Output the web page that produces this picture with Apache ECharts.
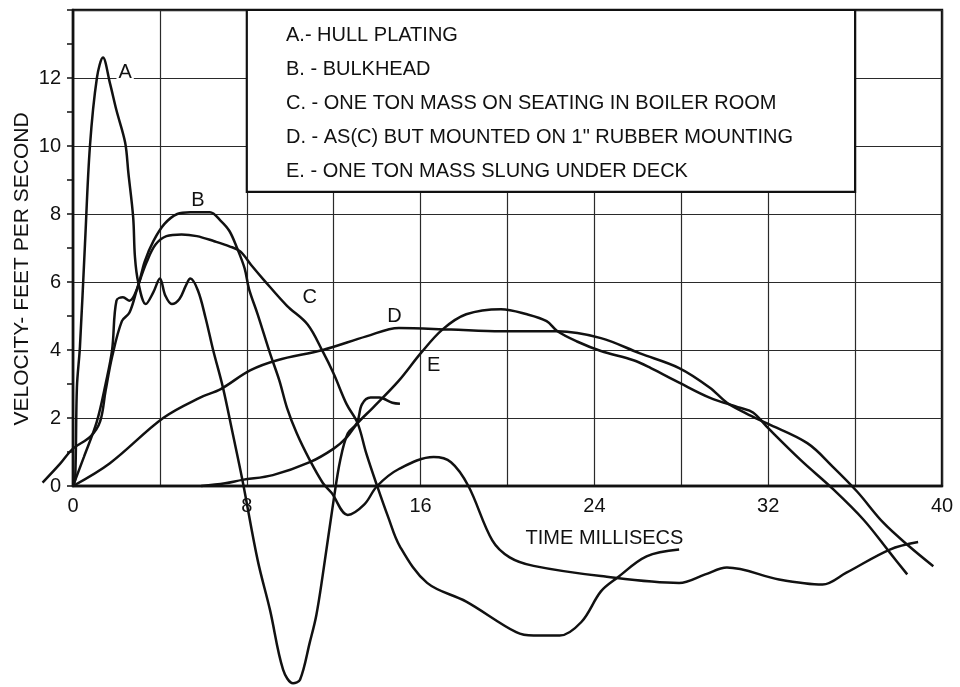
<!DOCTYPE html>
<html>
<head>
<meta charset="utf-8">
<script src="https://cdn.jsdelivr.net/npm/echarts@6/dist/echarts.min.js"></script>
<style>
  html, body { margin: 0; padding: 0; background: #fff; }
  #chart { width: 960px; height: 687px; }
</style>
</head>
<body>
<div id="chart"></div>
<script>
// time (ms) and velocity (ft/s), one pair of arrays per curve
const aTime = [0, 0.1, 0.18, 0.32, 0.55, 0.78, 1.1, 1.38, 1.7, 2.0, 2.4, 2.55, 2.77, 2.85, 3.0, 3.35, 3.7, 4.0, 4.25, 4.55, 4.9, 5.2, 5.4, 5.75, 6.1, 6.45, 6.9, 7.35, 7.8, 8.5, 9.07, 9.67, 10.13, 10.45, 10.9, 11.2, 11.5, 12.0, 12.3, 12.65, 13.07, 13.3, 13.7, 14.1, 14.7, 15.05];
const aVel = [0, 0.2, 2.9, 4.1, 7.1, 10, 12, 12.6, 11.85, 11.05, 10.1, 9.2, 7.9, 6.75, 6.0, 5.35, 5.7, 6.1, 5.6, 5.35, 5.5, 5.9, 6.1, 5.75, 4.95, 4.0, 2.9, 1.55, 0.17, -2.18, -3.65, -5.4, -5.8, -5.7, -4.6, -3.8, -2.6, -0.4, 0.76, 1.55, 1.85, 2.4, 2.6, 2.6, 2.45, 2.42];

const bTime = [0, 0.5, 1.1, 1.5, 1.8, 2.0, 2.3, 2.6, 2.95, 3.3, 3.7, 4.2, 4.8, 5.4, 6.3, 6.8, 7.2, 7.55, 7.9, 8.1, 8.5, 9.07, 9.5, 9.85, 10.3, 10.9, 11.5, 11.9, 12.65, 13.4, 14.0, 15.0, 16.6, 17.4, 18.2, 19.3, 20.1, 21.2, 24.3, 27.9, 29.1, 30.1, 32.5, 34.5, 35.6, 37.6, 38.9];
const bVel = [0, 0.85, 1.9, 3.0, 4.0, 5.45, 5.55, 5.45, 5.8, 6.6, 7.2, 7.7, 8.0, 8.05, 8.05, 7.8, 7.5, 7.0, 6.4, 5.8, 5.05, 3.9, 3.1, 2.3, 1.55, 0.76, 0.09, -0.2, -0.85, -0.55, 0, 0.5, 0.85, 0.7, 0, -1.6, -2.1, -2.35, -2.65, -2.85, -2.6, -2.4, -2.75, -2.9, -2.55, -1.87, -1.65];

const cTime = [-1.4, -0.6, 0, 0.8, 1.25, 1.5, 1.8, 2.25, 2.6, 3.0, 3.4, 3.8, 4.3, 5.0, 5.7, 6.5, 7.2, 7.7, 8.2, 8.8, 9.85, 10.8, 11.5, 12.0, 12.6, 13.1, 13.5, 14.0, 14.5, 15.05, 16.3, 18.1, 20.4, 21.2, 22.4, 23.4, 24.3, 25.05, 26.4, 27.9];
const cVel = [0.1, 0.65, 1.1, 1.45, 1.9, 2.8, 3.8, 4.85, 5.1, 5.9, 6.6, 7.1, 7.35, 7.4, 7.35, 7.2, 7.05, 6.9, 6.5, 6.05, 5.3, 4.75, 3.95, 3.3, 2.4, 1.85, 0.96, 0, -0.9, -1.78, -2.85, -3.4, -4.3, -4.4, -4.4, -4.0, -3.1, -2.7, -2.07, -1.87];

const dTime = [0, 1.7, 4.15, 5.85, 6.8, 8.15, 9.4, 11.5, 13.5, 15, 17.4, 19.7, 22.3, 24.3, 26.1, 27.9, 29.3, 30.1, 31, 31.95, 33.8, 35, 36.1, 37.3, 38.5, 39.6];
const dVel = [0, 0.67, 2.0, 2.6, 2.85, 3.4, 3.7, 4.0, 4.4, 4.65, 4.6, 4.55, 4.55, 4.35, 3.9, 3.47, 2.9, 2.45, 2.13, 1.84, 1.26, 0.55, -0.17, -1.08, -1.78, -2.36];

const eTime = [5.9, 7, 7.8, 9.2, 10.9, 12, 12.6, 13.1, 13.8, 15, 16, 17, 18.1, 19.7, 20.9, 21.8, 22.3, 23.2, 24.3, 25.8, 26.6, 27.9, 29.3, 30.7, 31.3, 32, 33.5, 35, 36.4, 37.6, 38.4];
const eVel = [0, 0.08, 0.18, 0.32, 0.7, 1.1, 1.43, 1.85, 2.3, 3.1, 3.9, 4.6, 5.05, 5.2, 5.05, 4.85, 4.55, 4.25, 3.97, 3.7, 3.47, 3.04, 2.6, 2.3, 2.16, 1.7, 0.76, -0.1, -1.0, -1.96, -2.6];

const curveNames = ['A', 'B', 'C', 'D', 'E'];
// where each curve's letter sits, in data units
const letterSpots = [[2.4, 12.15], [5.75, 8.4], [10.9, 5.55], [14.8, 5.0], [16.6, 3.55]];

const legendLines = [
  'A.- HULL PLATING',
  'B. - BULKHEAD',
  'C. - ONE TON MASS ON SEATING IN BOILER ROOM',
  'D. - AS(C) BUT MOUNTED ON 1" RUBBER MOUNTING',
  'E. - ONE TON MASS SLUNG UNDER DECK',
];
// legend panel corners, in data units
const legendBox = [[8, 8.65], [36, 14]];

const ink = '#111';
const font = 'Liberation Sans';

// plot frame: 0..40 ms across, 0..14 ft/s up
const plotLeft = 73;
const plotTop = 10;
const plotWidth = 869;
const plotHeight = 476;
// curve C starts before t = 0, so it gets a twin grid whose time axis begins at -2
const earlyStart = -2;
const pxPerMs = plotWidth / 40;

const curves = [
  [aTime, aVel],
  [bTime, bVel],
  [cTime, cVel],
  [dTime, dVel],
  [eTime, eVel],
];

function pairs(times, values) {
  return times.map((t, i) => [t, values[i]]);
}

const series = curves.map(([times, values], i) => {
  const onTwin = times[0] < 0;
  return {
    name: curveNames[i],
    type: 'line',
    xAxisIndex: onTwin ? 1 : 0,
    yAxisIndex: onTwin ? 1 : 0,
    data: pairs(times, values),
    symbol: 'none',
    smooth: 0.35,
    clip: false,
    silent: true,
    lineStyle: { color: ink, width: 2.5 },
    markPoint: {
      symbol: 'rect',
      symbolSize: 1,
      itemStyle: { color: 'rgba(0,0,0,0)' },
      label: {
        show: true,
        position: 'inside',
        formatter: curveNames[i],
        color: ink,
        fontFamily: font,
        fontSize: 20,
        backgroundColor: i === 0 ? '#fff' : 'transparent',
        padding: [0, 2],
      },
      data: [{ coord: letterSpots[i] }],
    },
    markArea: i === 0 ? {
      silent: true,
      itemStyle: { color: '#fff', borderColor: ink, borderWidth: 2.2 },
      data: [[{ coord: legendBox[0] }, { coord: legendBox[1] }]],
    } : undefined,
  };
});

const chart = echarts.init(document.getElementById('chart'), null, { renderer: 'canvas' });

chart.setOption({
  animation: false,
  backgroundColor: '#fff',
  title: {
    text: legendLines.join('\n'),
    left: 281,
    top: 13,
    textStyle: {
      color: ink,
      fontFamily: font,
      fontSize: 20,
      fontWeight: 'normal',
      lineHeight: 34,
    },
  },
  grid: [
    {
      show: true,
      left: plotLeft,
      top: plotTop,
      width: plotWidth,
      height: plotHeight,
      borderColor: ink,
      borderWidth: 2.4,
    },
    {
      show: false,
      left: plotLeft + earlyStart * pxPerMs,
      top: plotTop,
      width: plotWidth - earlyStart * pxPerMs,
      height: plotHeight,
    },
  ],
  xAxis: [
    {
      type: 'value',
      gridIndex: 0,
      min: 0,
      max: 40,
      interval: 4,
      axisLine: { lineStyle: { color: ink, width: 2.4 } },
      axisTick: { show: false },
      axisLabel: {
        formatter: (v) => (v % 8 === 0 ? String(v) : ''),
        color: ink,
        fontFamily: font,
        fontSize: 20,
        margin: 10,
      },
      splitLine: { lineStyle: { color: '#2a2a2a', width: 1.2 } },
      name: 'TIME MILLISECS',
      nameLocation: 'middle',
      nameGap: 42,
      nameTextStyle: {
        color: ink,
        fontFamily: font,
        fontSize: 20,
        padding: [0, 0, 0, 194],
      },
    },
    {
      type: 'value',
      gridIndex: 1,
      min: earlyStart,
      max: 40,
      show: false,
    },
  ],
  yAxis: [
    {
      type: 'value',
      gridIndex: 0,
      min: 0,
      max: 14,
      interval: 2,
      axisLine: { lineStyle: { color: ink, width: 2.4 } },
      axisTick: { show: true, length: 6, lineStyle: { color: ink, width: 1.5 } },
      minorTick: { show: true, splitNumber: 2, length: 6, lineStyle: { color: ink, width: 1.5 } },
      axisLabel: {
        formatter: (v) => (v === 14 ? '' : String(v)),
        color: ink,
        fontFamily: font,
        fontSize: 20,
        margin: 12,
      },
      splitLine: { lineStyle: { color: '#2a2a2a', width: 1.2 } },
    },
    {
      type: 'value',
      gridIndex: 1,
      min: 0,
      max: 14,
      show: false,
      splitLine: { show: false },
    },
  ],
  graphic: [
    {
      type: 'text',
      x: 22,
      y: 269,
      rotation: Math.PI / 2,
      style: {
        text: 'VELOCITY- FEET PER SECOND',
        fill: ink,
        font: '21px "Liberation Sans"',
        textAlign: 'center',
        textVerticalAlign: 'middle',
      },
    },
  ],
  series,
});
</script>
</body>
</html>
